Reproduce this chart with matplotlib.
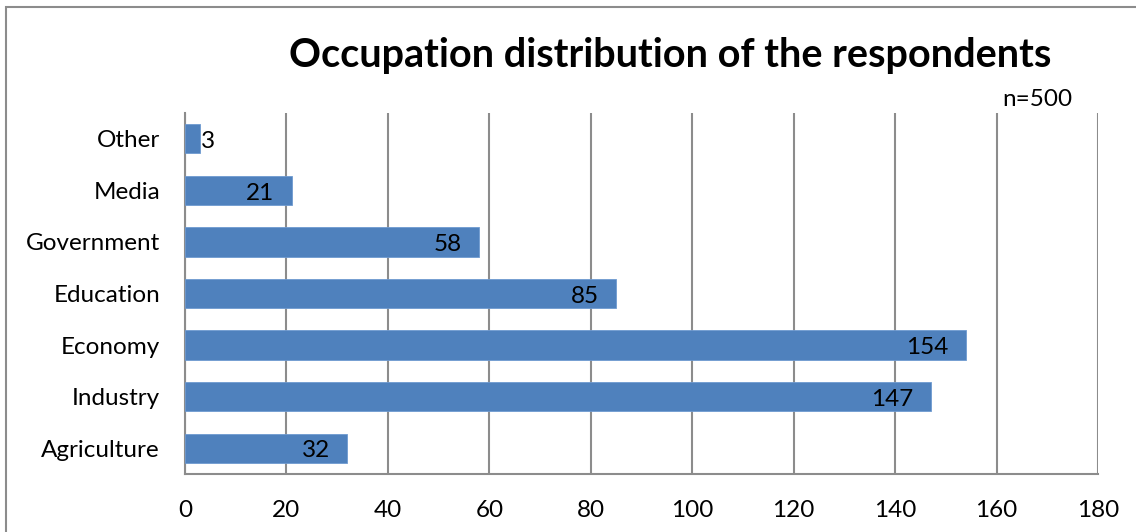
import matplotlib
matplotlib.use("Agg")
import matplotlib.pyplot as plt
from matplotlib.patches import Rectangle

plt.rcParams['font.family'] = ['Lato', 'DejaVu Sans']

# data (bottom to top as drawn)
categories = ['Agriculture', 'Industry', 'Economy', 'Education', 'Government', 'Media', 'Other']
counts = [32, 147, 154, 85, 58, 21, 3]
xticks = [0, 20, 40, 60, 80, 100, 120, 140, 160, 180]

BAR = '#4F81BD'
GRID = '#8C8C8C'

W, H = 1136, 532
fig = plt.figure(figsize=(W / 100, H / 100), dpi=100)
ax = fig.add_axes([185 / W, 1 - 474 / H, (1098 - 185) / W, (474 - 113) / H])

ypos = range(len(categories))
ax.barh(ypos, counts, height=0.57, color=BAR, edgecolor='#6F9AD0', linewidth=0.6, zorder=3)

ax.set_xlim(0, 180)
ax.set_ylim(-0.5, len(categories) - 0.5)
ax.set_xticks(xticks)
ax.set_yticks(list(ypos))
ax.set_yticklabels(categories)
ax.tick_params(axis='both', length=0, labelsize=17.5)
ax.tick_params(axis='y', pad=18)
ax.tick_params(axis='x', pad=19)
ax.xaxis.grid(True, color=GRID, linewidth=1.5, zorder=0)

for side in ['top', 'right']:
    ax.spines[side].set_visible(False)
for side in ['left', 'bottom']:
    ax.spines[side].set_color(GRID)
    ax.spines[side].set_linewidth(1.5)

# value labels: inside end, small ones just outside
for y, v in zip(ypos, counts):
    if v < 10:
        ax.annotate(str(v), (v, y), xytext=(0.5, -2), textcoords='offset points',
                    ha='left', va='center', fontsize=17.5, zorder=4)
    else:
        ax.annotate(str(v), (v, y), xytext=(-12.5, -2), textcoords='offset points',
                    ha='right', va='center', fontsize=17.5, zorder=4)

fig.text(670 / W, 1 - 55 / H, 'Occupation distribution of the respondents',
         ha='center', va='center', fontsize=28.5, fontweight='bold')
fig.text(1072 / W, 1 - 100 / H, 'n=500', ha='right', va='center', fontsize=17.5)

# chart frame (only left and top visible in the crop)
fig.patches.append(Rectangle((6 / W, -0.1), 1.2, 1 - 7 / H + 0.1,
                             transform=fig.transFigure, fill=False,
                             edgecolor=GRID, linewidth=1.5))

fig.savefig('out.png', dpi=100)
